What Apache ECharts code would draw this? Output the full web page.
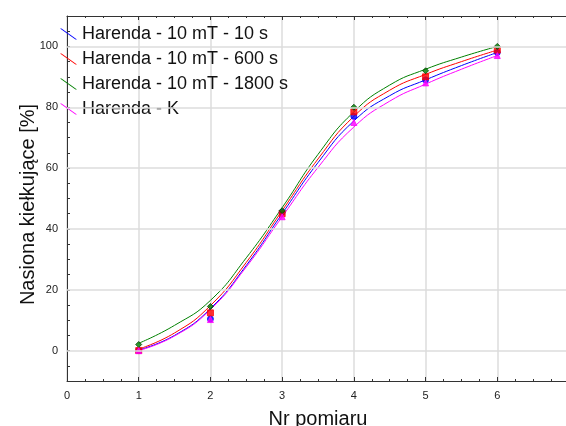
<!DOCTYPE html>
<html lang="pl">
<head>
    <meta charset="UTF-8">
    <title>Nasiona kiełkujące</title>
    <script src="https://cdn.jsdelivr.net/npm/echarts@6/dist/echarts.min.js"></script>
    <style>
        body { margin: 0; background: #fff; }
        #chart { width: 566px; height: 426px; }
    </style>
</head>
<body>
<div id="chart"></div>
<script>
// measurement numbers and the labels
const seriesNames = ['Harenda - 10 mT - 10 s', 'Harenda - 10 mT - 600 s', 'Harenda - 10 mT - 1800 s', 'Harenda - K'];
const colors = ['#0000ff', '#ff0000', '#008000', '#ff00ff'];
const symbols = ['circle', 'rect', 'diamond', 'triangle'];

const pomiary = [1, 2, 3, 4, 5, 6];
const pts10s   = [0, 10.4, 45.5, 77, 89, 98];
const pts600s  = [0, 12.4, 45, 78.5, 90, 98.8];
const pts1800s = [2, 14.5, 46, 80, 92, 100];
const ptsK     = [0, 10.2, 44, 75, 88, 97];

// fitted curves
const curveX     = [1, 1.5, 2, 2.5, 3, 3.5, 4, 4.5, 5, 5.5, 6];
const curve10s   = [0.2, 5, 13.8, 28, 45, 61.8, 75.5, 83.8, 89, 93.7, 98];
const curve600s  = [0.5, 5.8, 14.8, 29, 46, 63, 77, 85.6, 90.8, 95, 98.8];
const curve1800s = [2.4, 8.3, 16.5, 30.5, 47, 64.5, 78.5, 87.3, 92.5, 96.5, 100];
const curveK     = [0, 4.8, 13.5, 27.5, 44, 60.2, 73.5, 82, 87.6, 92.5, 97];

const yGrid = [0, 20, 40, 60, 80, 100];

const points = [pts10s, pts600s, pts1800s, ptsK];
const curves = [curve10s, curve600s, curve1800s, curveK];

const font = 'Liberation Sans, Arial, sans-serif';
const legendIcon = 'path://M0,0 L1.5,0 L17,11 L15.5,11 Z';

const series = [{
    type: 'line',
    data: [],
    z: 1,
    silent: true,
    markLine: {
        silent: true,
        symbol: 'none',
        label: { show: false },
        lineStyle: { color: '#dcdcdc', width: 1.5, type: 'solid' },
        data: yGrid.map(v => ({ yAxis: v }))
    }
}];

seriesNames.forEach((name, i) => {
    series.push({
        name: name,
        type: 'line',
        smooth: 0.5,
        showSymbol: false,
        z: 3,
        lineStyle: { color: colors[i], width: 1 },
        itemStyle: { color: colors[i] },
        data: curveX.map((x, j) => [x, curves[i][j]])
    });
    series.push({
        name: name,
        type: 'scatter',
        symbol: symbols[i],
        symbolSize: 6,
        z: 4,
        itemStyle: { color: colors[i], borderColor: i === 2 ? '#004400' : colors[i], borderWidth: 1 },
        data: pomiary.map((x, j) => [x, points[i][j]])
    });
});

const chart = echarts.init(document.getElementById('chart'));
chart.setOption({
    animation: false,
    grid: { left: 67, top: 16, right: -3, bottom: 45, outerBoundsMode: 'none', containLabel: false },
    legend: {
        left: 55,
        top: 20,
        orient: 'vertical',
        itemWidth: 17,
        itemHeight: 11,
        itemGap: 7,
        selectedMode: false,
        textStyle: { fontFamily: font, fontSize: 18, color: '#111', lineHeight: 18 },
        data: seriesNames.map((n, i) => ({ name: n, icon: legendIcon, itemStyle: { color: colors[i] } }))
    },
    xAxis: [{
        type: 'value',
        min: 0,
        max: 7,
        interval: 1,
        name: 'Nr pomiaru',
        nameLocation: 'middle',
        nameGap: 28,
        nameMoveOverlap: false,
        nameTextStyle: { fontFamily: font, fontSize: 20, color: '#111' },
        axisLine: { onZero: false, lineStyle: { color: '#333', width: 1 } },
        axisTick: { inside: true, length: 4, lineStyle: { color: '#333' } },
        minorTick: { show: true, splitNumber: 4, length: 2, lineStyle: { color: '#333' } },
        axisLabel: { fontFamily: font, fontSize: 11, color: '#222', margin: 9, formatter: v => (v <= 6 ? v : '') },
        splitLine: { show: true, lineStyle: { color: '#dcdcdc', width: 1.5 } }
    }, {
        type: 'value',
        position: 'top',
        min: 0,
        max: 7,
        interval: 1,
        axisLine: { onZero: false, lineStyle: { color: '#333', width: 1 } },
        axisTick: { inside: true, length: 4, lineStyle: { color: '#333' } },
        minorTick: { show: true, splitNumber: 4, length: 2, lineStyle: { color: '#333' } },
        axisLabel: { show: false },
        splitLine: { show: false }
    }],
    yAxis: [{
        type: 'value',
        min: -10,
        max: 110,
        interval: 5,
        name: 'Nasiona kiełkujące [%]',
        nameLocation: 'middle',
        nameGap: 29,
        nameMoveOverlap: false,
        nameTextStyle: { fontFamily: font, fontSize: 20, color: '#111', padding: [0, 12, 0, 0] },
        axisLine: { show: true, onZero: false, lineStyle: { color: '#333', width: 1 } },
        axisTick: { show: true, inside: true, length: 3, lineStyle: { color: '#333' } },
        axisLabel: { fontFamily: font, fontSize: 11, color: '#222', margin: 9, formatter: v => (v >= 0 && v % 20 === 0 ? v : '') },
        splitLine: { show: false }
    }, {
        type: 'value',
        position: 'right',
        min: -10,
        max: 110,
        interval: 5,
        axisLine: { show: true, onZero: false, lineStyle: { color: '#333', width: 1 } },
        axisTick: { show: false },
        axisLabel: { show: false },
        splitLine: { show: false }
    }],
    series: series
});
</script>
</body>
</html>
